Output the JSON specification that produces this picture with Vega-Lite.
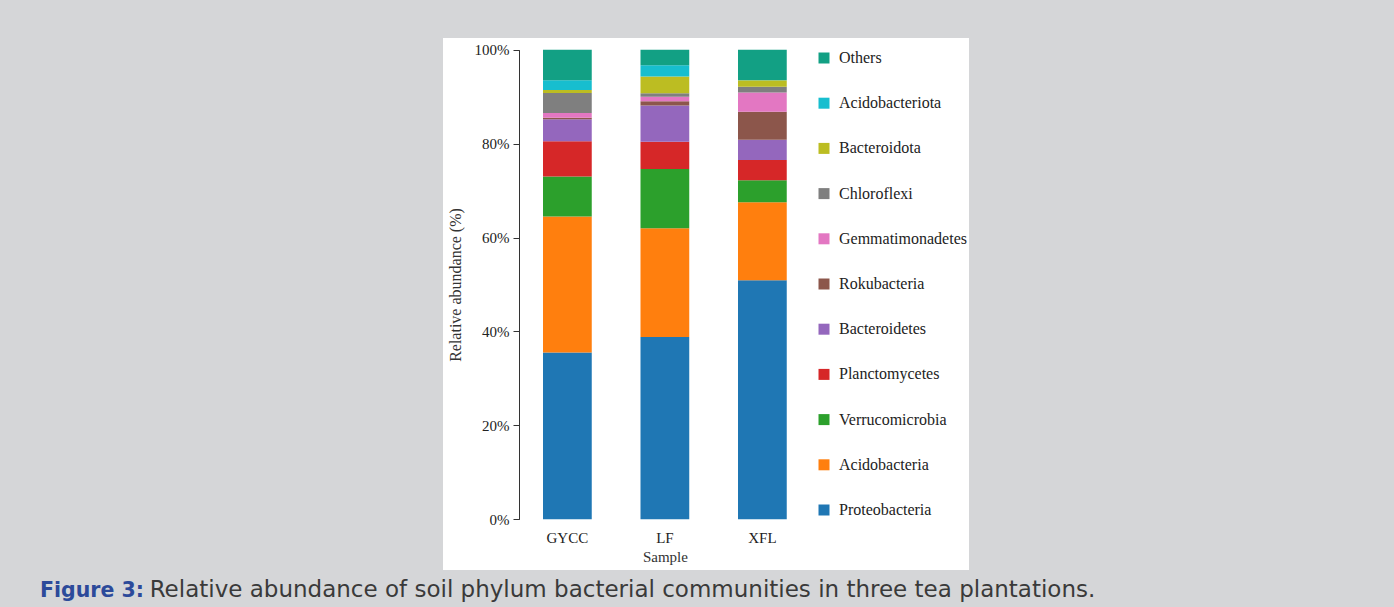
{
  "$schema": "https://vega.github.io/schema/vega-lite/v6.json",
  "autosize": {"type": "none"},
  "width": 526,
  "height": 532,
  "padding": {"left": 443, "top": 38, "right": 425, "bottom": 37},
  "background": "#d5d6d8",
  "title": {
    "text": "Figure 3:",
    "subtitle": "\u200b\u00a0\u00a0\u00a0\u00a0\u00a0\u00a0\u00a0\u00a0\u00a0\u00a0\u00a0\u00a0\u00a0\u00a0\u00a0Relative abundance of soil phylum bacterial communities in three tea plantations.",
    "orient": "bottom",
    "anchor": "start",
    "frame": "group",
    "dx": -403,
    "offset": 11,
    "font": "DejaVu Sans",
    "fontSize": 20.5,
    "fontWeight": "bold",
    "color": "#2c4a9a",
    "subtitleFont": "DejaVu Sans",
    "subtitleFontSize": 23,
    "subtitleFontWeight": "normal",
    "subtitleColor": "#3a3a3a",
    "subtitlePadding": -23
  },
  "config": {
    "view": {"fill": "white", "stroke": null},
    "font": "Liberation Serif"
  },
  "data": {
    "values": [
      {"sample": "GYCC", "phylum": "Proteobacteria", "abundance": 35.5},
      {"sample": "GYCC", "phylum": "Acidobacteria", "abundance": 29.0},
      {"sample": "GYCC", "phylum": "Verrucomicrobia", "abundance": 8.5},
      {"sample": "GYCC", "phylum": "Planctomycetes", "abundance": 7.5},
      {"sample": "GYCC", "phylum": "Bacteroidetes", "abundance": 4.7},
      {"sample": "GYCC", "phylum": "Rokubacteria", "abundance": 0.3},
      {"sample": "GYCC", "phylum": "Gemmatimonadetes", "abundance": 1.0},
      {"sample": "GYCC", "phylum": "Chloroflexi", "abundance": 4.3},
      {"sample": "GYCC", "phylum": "Bacteroidota", "abundance": 0.6},
      {"sample": "GYCC", "phylum": "Acidobacteriota", "abundance": 2.1},
      {"sample": "GYCC", "phylum": "Others", "abundance": 6.5},
      {"sample": "LF", "phylum": "Proteobacteria", "abundance": 38.8},
      {"sample": "LF", "phylum": "Acidobacteria", "abundance": 23.2},
      {"sample": "LF", "phylum": "Verrucomicrobia", "abundance": 12.6},
      {"sample": "LF", "phylum": "Planctomycetes", "abundance": 5.8},
      {"sample": "LF", "phylum": "Bacteroidetes", "abundance": 7.7},
      {"sample": "LF", "phylum": "Rokubacteria", "abundance": 0.9},
      {"sample": "LF", "phylum": "Gemmatimonadetes", "abundance": 1.0},
      {"sample": "LF", "phylum": "Chloroflexi", "abundance": 0.7},
      {"sample": "LF", "phylum": "Bacteroidota", "abundance": 3.6},
      {"sample": "LF", "phylum": "Acidobacteriota", "abundance": 2.4},
      {"sample": "LF", "phylum": "Others", "abundance": 3.3},
      {"sample": "XFL", "phylum": "Proteobacteria", "abundance": 50.9},
      {"sample": "XFL", "phylum": "Acidobacteria", "abundance": 16.6},
      {"sample": "XFL", "phylum": "Verrucomicrobia", "abundance": 4.7},
      {"sample": "XFL", "phylum": "Planctomycetes", "abundance": 4.3},
      {"sample": "XFL", "phylum": "Bacteroidetes", "abundance": 4.3},
      {"sample": "XFL", "phylum": "Rokubacteria", "abundance": 6.0},
      {"sample": "XFL", "phylum": "Gemmatimonadetes", "abundance": 4.1},
      {"sample": "XFL", "phylum": "Chloroflexi", "abundance": 1.2},
      {"sample": "XFL", "phylum": "Bacteroidota", "abundance": 1.4},
      {"sample": "XFL", "phylum": "Acidobacteriota", "abundance": 0.05},
      {"sample": "XFL", "phylum": "Others", "abundance": 6.45}
    ]
  },
  "transform": [
    {"stack": "abundance", "groupby": ["sample"], "sort": [{"field": "sample", "order": "ascending"}], "as": ["ab0", "ab1"]}
  ],
  "mark": {"type": "bar"},
  "encoding": {
    "x": {
      "field": "sample",
      "type": "nominal",
      "sort": ["GYCC", "LF", "XFL"],
      "scale": {"range": [51.25, 392.5], "paddingInner": 0.5, "paddingOuter": 0.5},
      "axis": {
        "orient": "bottom",
        "offset": -51,
        "domain": false,
        "ticks": false,
        "labelAngle": 0,
        "labelPadding": 11,
        "labelFontSize": 15,
        "labelColor": "#222222",
        "title": "Sample",
        "titleFontSize": 15,
        "titleFontWeight": "normal",
        "titleColor": "#333333",
        "titlePadding": 4
      }
    },
    "y": {
      "field": "ab0",
      "type": "quantitative",
      "scale": {"domain": [0, 100], "range": [481.3, 11.7], "nice": false},
      "axis": {
        "orient": "left",
        "offset": -76,
        "values": [0, 20, 40, 60, 80, 100],
        "labelExpr": "datum.value + '%'",
        "grid": false,
        "domainColor": "#333333",
        "tickColor": "#333333",
        "tickSize": 6,
        "labelPadding": 4,
        "labelFontSize": 15,
        "labelColor": "#222222",
        "title": "Relative abundance (%)",
        "titleFontSize": 16,
        "titleFontWeight": "normal",
        "titleColor": "#333333",
        "titlePadding": 11
      }
    },
    "y2": {"field": "ab1"},
    "color": {
      "field": "phylum",
      "type": "nominal",
      "scale": {
        "domain": ["Others", "Acidobacteriota", "Bacteroidota", "Chloroflexi", "Gemmatimonadetes", "Rokubacteria", "Bacteroidetes", "Planctomycetes", "Verrucomicrobia", "Acidobacteria", "Proteobacteria"],
        "range": ["#12a084", "#17becf", "#bcbd22", "#7f7f7f", "#e377c2", "#8c564b", "#9467bd", "#d62728", "#2ca02c", "#ff7f0e", "#1f77b4"]
      },
      "legend": {
        "orient": "none",
        "legendX": 373,
        "legendY": 12,
        "title": null,
        "padding": 0,
        "symbolType": "square",
        "symbolSize": 121,
        "symbolStrokeWidth": 0,
        "labelFontSize": 16,
        "labelColor": "#222222",
        "labelOffset": 7,
        "rowPadding": 29.2
      }
    }
  }
}
